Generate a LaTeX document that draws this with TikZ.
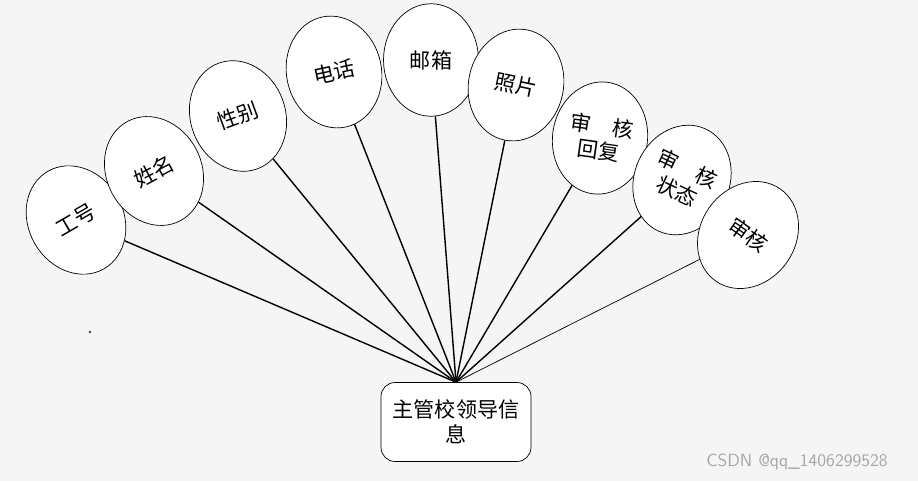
\documentclass[tikz,border=0pt]{standalone}
\usepackage{fontspec}
\newfontfamily\cjk{Noto Sans CJK SC}
\usetikzlibrary{shapes.geometric}
\begin{document}
\begin{tikzpicture}[
        x=0.02cm, y=-0.02cm,
        attr/.style={draw, ellipse, fill=white, minimum width=1.9cm, minimum height=2.25cm, inner sep=0pt, align=center, font=\cjk\large},
        main/.style={draw, rounded corners=8pt, fill=white, minimum width=3cm, minimum height=1.58cm, inner sep=2pt, align=center, font=\cjk\large},
        link/.style={thick}
        ]
        \fill[gray!8] (0,0) rectangle (918,481);
        \useasboundingbox (0,0) rectangle (918,481);
        % Nodes
        \node[main] (leader) at (456,422) {主管校领导信\\息};
        \node[attr, rotate=30] (gonghao) at (76,220) {工号};
        \node[attr, rotate=28] (xingming) at (154,171) {姓名};
        \node[attr, rotate=20] (xingbie) at (238,116) {性别};
        \node[attr, rotate=12] (dianhua) at (334,72) {电话};
        \node[attr] (youxiang) at (431,60) {邮箱};
        \node[attr, rotate=-12] (zhaopian) at (516,85) {照片};
        \node[attr, rotate=-8] (huifu) at (600,138) {审\quad 核\\回复};
        \node[attr, rotate=-25] (zhuangtai) at (682,180) {审\quad 核\\状态};
        \node[attr, rotate=-35] (shenhe) at (748,235) {审核};
        \fill (90,332) circle (0.6pt);
        \node[font=\sffamily, text=gray!70] (mark) at (797,462) {CSDN @qq\_1406299528};
        % Lines
        \foreach \n in {gonghao, xingming, xingbie, dianhua, youxiang, zhaopian, huifu, zhuangtai}
            \draw[link] (leader.north) -- (\n);
        \draw (leader.north) -- (shenhe);
    \end{tikzpicture}
\end{document}
